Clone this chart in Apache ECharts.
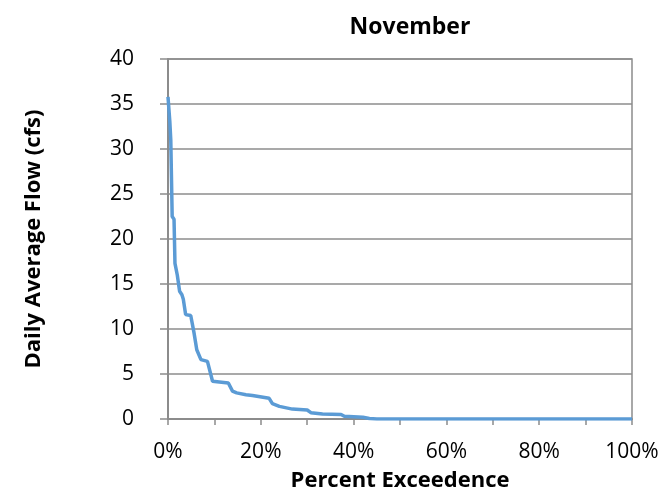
<!DOCTYPE html>
<html>
<head>
<meta charset="utf-8">
<script src="https://cdn.jsdelivr.net/npm/echarts@6/dist/echarts.min.js"></script>
<style>
  html, body { margin: 0; padding: 0; background: #fff; }
  #chart { width: 664px; height: 497px; }
</style>
</head>
<body>
<div id="chart"></div>
<script>
// flow duration curve, November
const pctExceed = [0, 0.4, 0.6, 0.9, 1.3, 1.5, 2.0, 2.5, 3.0, 3.3, 3.8, 4.9, 5.6, 6.2, 7.1, 8.5, 9.6, 9.9, 13.0, 13.9, 14.8, 16.8, 18.2, 21.8, 22.5, 24.0, 26.8, 30.0, 30.8, 33.3, 37.3, 38.0, 42.0, 43.4, 45.0, 100];
const flowCfs   = [35.8, 33.0, 31.0, 22.5, 22.2, 17.3, 16.0, 14.2, 13.8, 13.3, 11.6, 11.5, 9.6, 7.7, 6.6, 6.4, 4.2, 4.0, 4.0, 3.1, 2.9, 2.7, 2.6, 2.3, 1.7, 1.4, 1.1, 1.0, 0.7, 0.55, 0.5, 0.3, 0.2, 0.05, 0, 0];
const xTicks = [0, 20, 40, 60, 80, 100];

const font = '"Open Sans", "Liberation Sans", sans-serif';
const gray = '#8c8c8c';

const chart = echarts.init(document.getElementById('chart'));
chart.setOption({
  animation: false,
  title: {
    text: 'November',
    left: 405, top: 11, textAlign: 'center',
    textStyle: { fontFamily: font, fontSize: 23, fontWeight: 'bold', color: '#000' }
  },
  grid: { left: 168, right: 32, top: 59, bottom: 78, show: true, borderColor: gray, borderWidth: 1.5 },
  xAxis: {
    type: 'value', min: 0, max: 100, interval: 10,
    name: 'Percent Exceedence', nameLocation: 'middle', nameGap: 51,
    nameTextStyle: { fontFamily: font, fontSize: 22, fontWeight: 'bold', color: '#000' },
    axisLine: { show: true, lineStyle: { color: gray, width: 2 } },
    axisTick: { show: true, length: 6, lineStyle: { color: gray, width: 1.5 } },
    splitLine: { show: false },
    axisLabel: {
      fontFamily: font, fontSize: 21, color: '#000', margin: 23,
      formatter: v => xTicks.includes(v) ? v + '%' : ''
    }
  },
  yAxis: {
    type: 'value', min: 0, max: 40, interval: 5,
    name: 'Daily Average Flow (cfs)', nameLocation: 'middle', nameGap: 123, nameRotate: 90,
    nameTextStyle: { fontFamily: font, fontSize: 22, fontWeight: 'bold', color: '#000' },
    axisLine: { show: true, lineStyle: { color: gray, width: 2 } },
    axisTick: { show: true, length: 8, lineStyle: { color: gray, width: 1.5 } },
    splitLine: { show: true, lineStyle: { color: gray, width: 1.5 } },
    axisLabel: { fontFamily: font, fontSize: 21, color: '#000', margin: 34 }
  },
  series: [{
    type: 'line',
    data: pctExceed.map((p, i) => [p, flowCfs[i]]),
    showSymbol: false,
    lineStyle: { color: '#5b9bd5', width: 3.5 }
  }]
});
</script>
</body>
</html>
